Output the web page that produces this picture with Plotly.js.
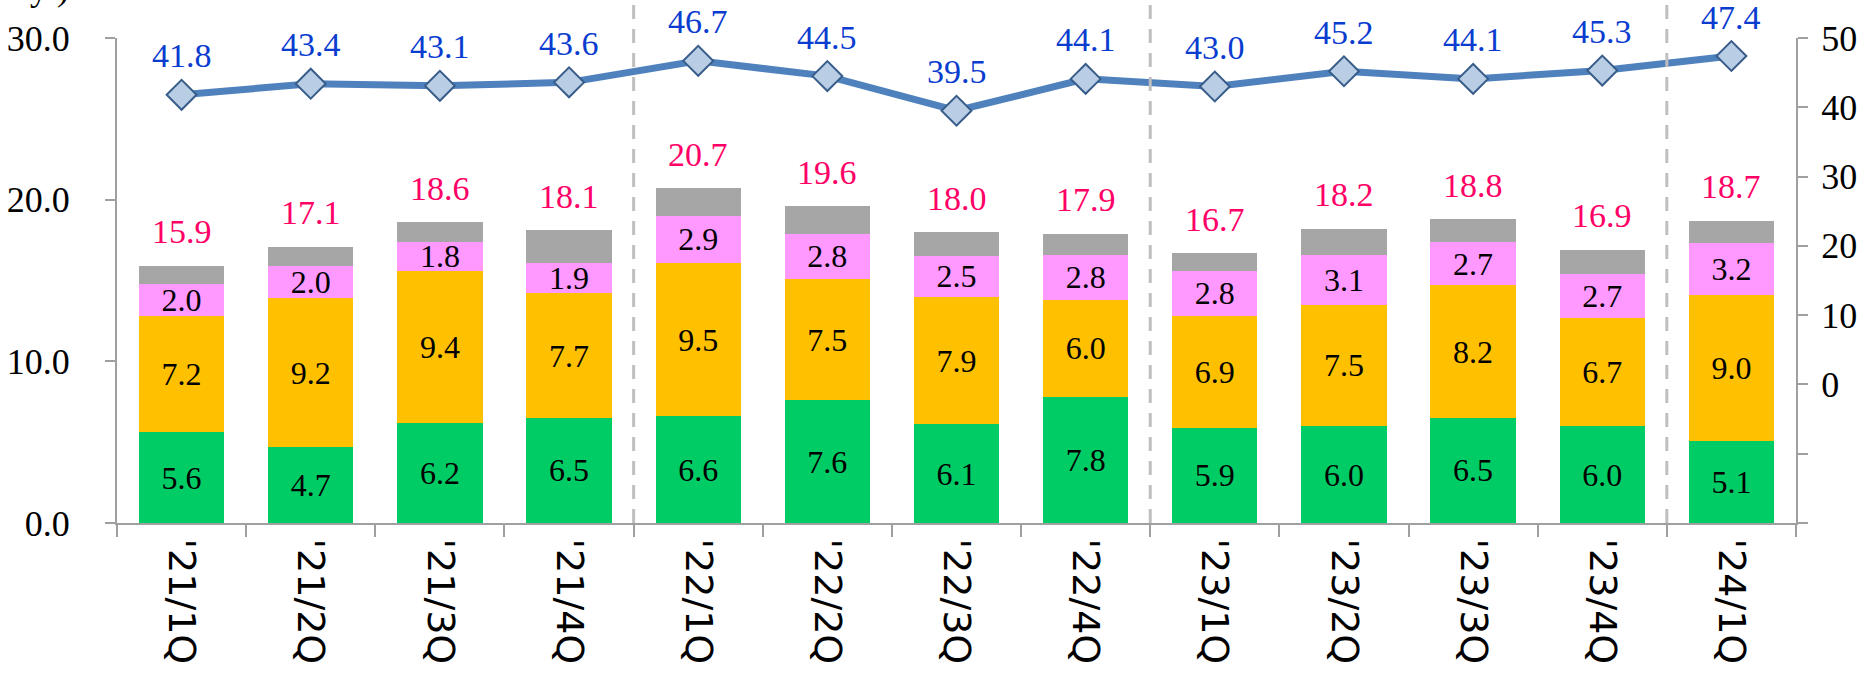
<!DOCTYPE html>
<html>
<head>
<meta charset="utf-8">
<script src="https://cdn.plot.ly/plotly-3.0.1.min.js"></script>
<style>html,body{margin:0;padding:0;background:#fff;}#chart{width:1867px;height:676px;}</style>
</head>
<body>
<div id="chart"></div>
<script>
const categories = ["'21/1Q","'21/2Q","'21/3Q","'21/4Q","'22/1Q","'22/2Q","'22/3Q","'22/4Q","'23/1Q","'23/2Q","'23/3Q","'23/4Q","'24/1Q"];
const greenVals  = [5.6, 4.7, 6.2, 6.5, 6.6, 7.6, 6.1, 7.8, 5.9, 6.0, 6.5, 6.0, 5.1];
const orangeVals = [7.2, 9.2, 9.4, 7.7, 9.5, 7.5, 7.9, 6.0, 6.9, 7.5, 8.2, 6.7, 9.0];
const pinkVals   = [2.0, 2.0, 1.8, 1.9, 2.9, 2.8, 2.5, 2.8, 2.8, 3.1, 2.7, 2.7, 3.2];
const grayVals   = [1.1, 1.2, 1.2, 2.0, 1.7, 1.7, 1.5, 1.3, 1.1, 1.6, 1.4, 1.5, 1.4];
const totalVals  = [15.9, 17.1, 18.6, 18.1, 20.7, 19.6, 18.0, 17.9, 16.7, 18.2, 18.8, 16.9, 18.7];
const lineVals   = [41.8, 43.4, 43.1, 43.6, 46.7, 44.5, 39.5, 44.1, 43.0, 45.2, 44.1, 45.3, 47.4];
const dividerAfter = ["'21/4Q", "'22/4Q", "'23/4Q"];
const leftTicks = [0, 10, 20, 30];
const rightTicks = [-20, -10, 0, 10, 20, 30, 40, 50];
const rightTickText = ["", "", "0", "10", "20", "30", "40", "50"];

const serif = "Liberation Serif, Times New Roman, serif";
const fmt = v => v.toFixed(1);

function barTrace(vals, color, withText) {
  return {
    type: 'bar', x: categories, y: vals,
    marker: {color: color, line: {width: 0}},
    text: withText ? vals.map(fmt) : undefined,
    textposition: withText ? 'inside' : 'none',
    insidetextanchor: 'middle',
    textangle: 0,
    textfont: {family: serif, size: 32, color: '#000'},
    hoverinfo: 'skip',
    yaxis: 'y'
  };
}

const traces = [
  barTrace(greenVals, '#00CC66', true),
  barTrace(orangeVals, '#FFC000', true),
  barTrace(pinkVals, '#FF99FF', true),
  barTrace(grayVals, '#A6A6A6', false),
  {
    type: 'scatter', mode: 'lines+markers', x: categories, y: lineVals, yaxis: 'y2',
    line: {color: '#4F81BD', width: 7},
    marker: {symbol: 'diamond', size: 23, color: '#B9CDE5', line: {color: '#385D8A', width: 2}},
    hoverinfo: 'skip', cliponaxis: false
  }
];

const annotations = [];
categories.forEach((c, i) => {
  annotations.push({x: c, y: totalVals[i], xref: 'x', yref: 'y', text: fmt(totalVals[i]),
    showarrow: false, yshift: 34, yanchor: 'middle',
    font: {family: serif, size: 34, color: '#FF0066'}});
  annotations.push({x: c, y: lineVals[i], xref: 'x', yref: 'y2', text: fmt(lineVals[i]),
    showarrow: false, yshift: 39, yanchor: 'middle',
    font: {family: serif, size: 34, color: '#0A3CD0'}});
});
annotations.push({x: -0.04, y: 1.104, xref: 'paper', yref: 'paper', text: 'y )', showarrow: false,
  xanchor: 'center', yanchor: 'middle', font: {family: serif, size: 36, color: '#000'}});

const shapes = dividerAfter.map(c => ({
  type: 'line', xref: 'x', yref: 'paper',
  x0: categories.indexOf(c) + 0.5, x1: categories.indexOf(c) + 0.5,
  y0: 0, y1: 1.08,
  line: {color: '#BFBFBF', width: 3, dash: '14px,10px'}
}));

const layout = {
  width: 1867, height: 676,
  margin: {l: 117, r: 71, t: 38, b: 153, pad: 0},
  paper_bgcolor: '#fff', plot_bgcolor: '#fff',
  barmode: 'stack', bargap: 0.34,
  showlegend: false,
  uniformtext: {mode: 'show', minsize: 32},
  xaxis: {
    type: 'category', range: [-0.5, categories.length - 0.5], autorange: false,
    tickangle: 90,
    tickfont: {family: 'DejaVu Sans, sans-serif', size: 38, color: '#000'},
    showline: true, linecolor: '#A0A0A0', linewidth: 2,
    ticks: 'outside', tickson: 'boundaries', ticklen: 12, tickcolor: '#A0A0A0', tickwidth: 2,
    showgrid: false, zeroline: false, automargin: false, ticklabelstandoff: 6
  },
  yaxis: {
    range: [0, 30], tickvals: leftTicks, ticktext: leftTicks.map(fmt),
    tickfont: {family: serif, size: 36, color: '#000'},
    showline: true, linecolor: '#A0A0A0', linewidth: 2,
    ticks: 'outside', ticklen: 10, tickcolor: '#A0A0A0', tickwidth: 2,
    showgrid: false, zeroline: false, automargin: false, ticklabelstandoff: 28
  },
  yaxis2: {
    range: [-20, 50], overlaying: 'y', side: 'right',
    tickvals: rightTicks, ticktext: rightTickText,
    tickfont: {family: serif, size: 36, color: '#000'},
    showline: true, linecolor: '#A0A0A0', linewidth: 2,
    ticks: 'outside', ticklen: 10, tickcolor: '#A0A0A0', tickwidth: 2,
    showgrid: false, zeroline: false, automargin: false, ticklabelstandoff: 6
  },
  annotations: annotations,
  shapes: shapes
};

Plotly.newPlot('chart', traces, layout, {displayModeBar: false, staticPlot: true});
</script>
</body>
</html>
